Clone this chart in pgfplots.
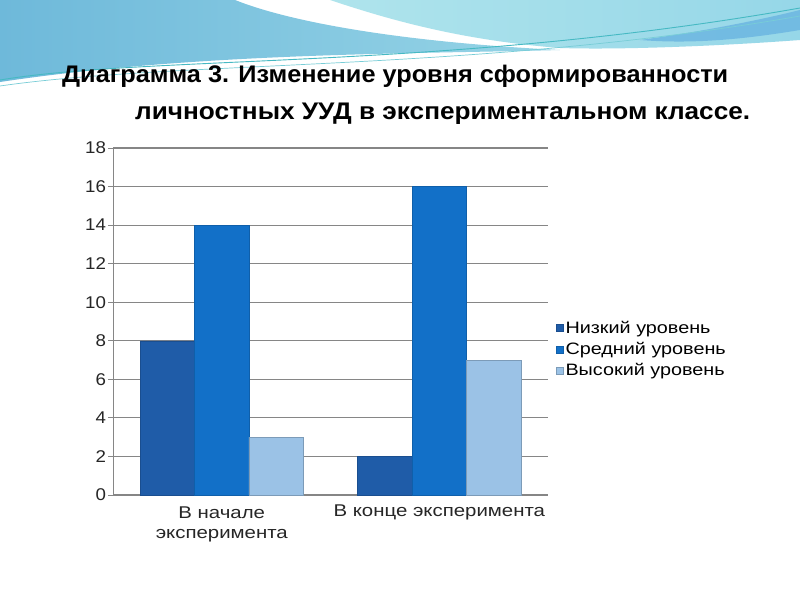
\documentclass[border=0pt]{standalone}
\usepackage{pgfplots}
\pgfplotsset{compat=1.18}
\usepackage{fontspec}
\setmainfont{Liberation Sans}
\definecolor{cLow}{RGB}{31,92,168}
\definecolor{cMid}{RGB}{18,112,200}
\definecolor{cHigh}{RGB}{155,194,230}
\definecolor{axgray}{RGB}{134,134,134}
\definecolor{wA}{RGB}{110,185,218}
\definecolor{wB}{RGB}{150,212,230}
\definecolor{wC}{RGB}{175,228,236}
\definecolor{wD}{RGB}{150,215,232}
\definecolor{wE}{RGB}{105,180,225}
\definecolor{wF}{RGB}{70,185,195}
\definecolor{wG}{RGB}{120,205,215}
\newcommand{\sx}[1]{\scalebox{1.2}[1]{#1}}
\begin{document}
\begin{tikzpicture}[x=1pt,y=1pt]
\path[use as bounding box] (0,0) rectangle (800,600);
\fill[white] (0,0) rectangle (800,600);
\begin{scope}[shift={(0,600)},yscale=-1]
 \clip (0,0) rectangle (800,600);
 \shade[left color=wA, right color=wB]
   (0,0) -- (235,0) .. controls (290,22) and (400,42) .. (560,50)
   .. controls (420,54) and (200,52) .. (0,82) -- cycle;
 \shade[left color=wC, right color=wD]
   (330,0) -- (800,0) -- (800,40) .. controls (720,46) and (620,50) .. (560,48)
   .. controls (460,40) and (390,20) .. (330,0) -- cycle;
 \fill[wE, opacity=0.8]
   (640,40) .. controls (700,32) and (760,20) .. (800,10) -- (800,30) .. controls (740,40) and (690,44) .. (640,40) -- cycle;
 \draw[wF, line width=0.9pt]
   (0,80) .. controls (150,55) and (450,70) .. (800,8);
 \draw[wG, line width=0.7pt]
   (0,86) .. controls (180,60) and (480,72) .. (800,16);
\end{scope}
\node[anchor=base west, inner sep=0pt] at (62,517)
  {\resizebox{666pt}{\height}{\fontsize{24}{26}\selectfont\bfseries Диаграмма 3. Изменение уровня сформированности}};
\node[anchor=base west, inner sep=0pt] at (135,480)
  {\resizebox{615pt}{\height}{\fontsize{24}{26}\selectfont\bfseries личностных УУД в экспериментальном классе.}};
\begin{axis}[
  at={(113pt,105pt)}, anchor=south west,
  width=435pt, height=347pt, scale only axis,
  ybar=0pt, bar width=54.4pt,
  xmin=-0.5, xmax=1.5, ymin=0, ymax=18,
  ytick={0,2,...,18},
  yticklabel={\scalebox{1.1}[1]{\pgfmathprintnumber{\tick}}},
  xtick={0,1},
  xticklabels={{\sx{\begin{tabular}{@{}c@{}}В начале\\[0pt]эксперимента\end{tabular}}},{\sx{В конце эксперимента}}},
  xticklabel style={anchor=north, font=\fontsize{17}{20}\selectfont, text=black!85, yshift=-1pt},
  major x tick style={draw=none},
  extra x ticks={-0.5,0.5,1.5},
  extra x tick labels={},
  extra x tick style={major tick length=5pt, grid=none, tick style={draw=axgray, line width=0.9pt}},
  axis lines=left,
  axis line style={-, draw=axgray, line width=1pt},
  tick align=outside,
  major tick length=5pt,
  tick style={draw=axgray, line width=0.9pt},
  ymajorgrids,
  grid style={draw=axgray, line width=1.2pt},
  yticklabel style={font=\fontsize{17}{18}\selectfont, text=black!85, xshift=1.5pt},
  /pgf/number format/assume math mode=true,
  legend style={draw=none, fill=none, at={(1.018,0.42)}, anchor=west,
    font=\fontsize{16.5}{18}\selectfont, row sep=3.5pt, inner sep=0pt,
    /tikz/every even column/.append style={column sep=1pt}},
  legend cell align=left,
  legend image code/.code={\fill[#1] (0pt,-3.5pt) rectangle (7pt,3.5pt);},
]
\addplot[fill=cLow, draw=cLow!85!black, line width=0.5pt] coordinates {(0,8) (1,2)};
\addplot[fill=cMid, draw=cMid!85!black, line width=0.5pt] coordinates {(0,14) (1,16)};
\addplot[fill=cHigh, draw=cHigh!80!black, line width=0.5pt] coordinates {(0,3) (1,7)};
\legend{\sx{Низкий уровень}, \sx{Средний уровень}, \sx{Высокий уровень}}
\end{axis}
\end{tikzpicture}
\end{document}
